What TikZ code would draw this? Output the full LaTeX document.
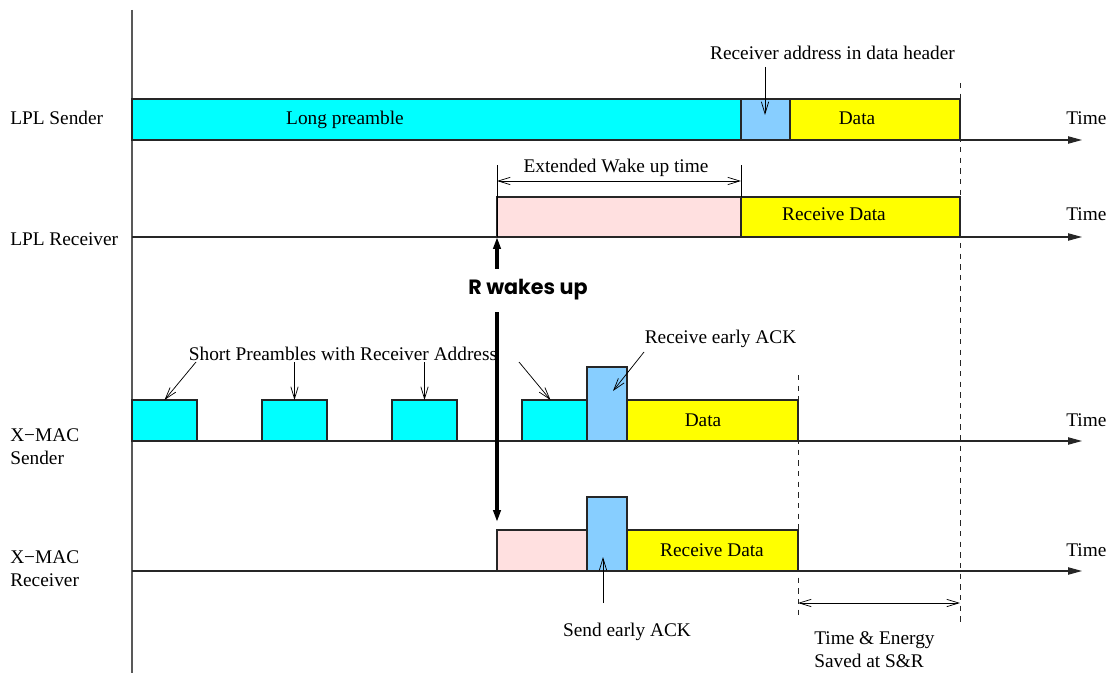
\documentclass[tikz,border=0pt]{standalone}
\usepackage{fontspec}
\setmainfont{Liberation Serif}
\newfontfamily\wakefont{Poppins}
\usetikzlibrary{arrows.meta,calc}

\definecolor{pcyan}{RGB}{0,255,255}
\definecolor{pyellow}{RGB}{255,255,0}
\definecolor{ltblue}{RGB}{135,206,255}
\definecolor{wakepink}{RGB}{255,224,224}

\begin{document}
\begin{tikzpicture}[x=0.75pt,y=-0.75pt,
  every node/.style={font=\fontsize{14.5pt}{17.3pt}\selectfont},
  seg/.style n args={3}{draw=black!85, line width=0.8pt, fill=#1, inner sep=0pt,
    outer sep=0pt, anchor=south west, minimum width=#2*0.75pt, minimum height=#3*0.75pt},
  lbl/.style={inner sep=0pt, anchor=base},
  axisline/.style={draw=black!65, line width=0.8pt},
  timeline/.style={draw=black!85, line width=0.8pt, -{Triangle[length=10.5pt,width=5.5pt]}},
  dashline/.style={draw=black!85, line width=0.65pt, dash pattern=on 4pt off 4pt},
  barb/.style={draw=black, line width=0.55pt, -{Straight Barb[length=9pt,width=5.5pt]}},
  dimarrow/.style={draw=black, line width=0.55pt, {Straight Barb[length=9pt,width=5.5pt]}-{Straight Barb[length=9pt,width=5.5pt]}},
  tickline/.style={draw=black, line width=0.6pt},
  wakearrow/.style={draw=black, line width=2.4pt, -{Triangle[length=9pt,width=5.5pt]}},
]
\useasboundingbox (0,0) rectangle (1112,673);

% time axis origin
\coordinate (vtop) at (132,10);
\coordinate (vbot) at (132,673);
\coordinate (tend) at (1082,0);
\draw[axisline] (vtop) -- (vbot);

% LPL sender
\node[seg={pcyan}{609}{41}] (lp) at (132,140) {};
\node[seg={ltblue}{49}{41}] (hb) at (741,140) {};
\node[seg={pyellow}{170}{41}] (ld) at (790,140) {};
% LPL receiver
\node[seg={wakepink}{244}{40}] (lw) at (497,237) {};
\node[seg={pyellow}{219}{40}] (lrd) at (741,237) {};
% X-MAC sender
\node[seg={pcyan}{65}{41}] (sp1) at (132,441) {};
\node[seg={pcyan}{65}{41}] (sp2) at (262,441) {};
\node[seg={pcyan}{65}{41}] (sp3) at (392,441) {};
\node[seg={pcyan}{65}{41}] (sp4) at (522,441) {};
\node[seg={ltblue}{40}{74}] (ack1) at (587,441) {};
\node[seg={pyellow}{171}{41}] (xd) at (627,441) {};
% X-MAC receiver
\node[seg={wakepink}{90}{41}] (xw) at (497,571) {};
\node[seg={ltblue}{40}{74}] (ack2) at (587,571) {};
\node[seg={pyellow}{171}{41}] (xrd) at (627,571) {};

% time lines
\draw[timeline] (lp.south west) -- (lp.south west -| tend);
\draw[timeline] (lw.south west -| vtop) -- (lw.south west -| tend);
\draw[timeline] (sp1.south west) -- (sp1.south west -| tend);
\draw[timeline] (xw.south west -| vtop) -- (xw.south west -| tend);

% end-of-data markers
\coordinate (d1top) at (960,83);
\coordinate (d1bot) at (960,623);
\coordinate (d2top) at (798,375);
\coordinate (d2bot) at (798,617);
\draw[dashline] (d1top) -- (d1bot);
\draw[dashline] (d2top) -- (d2bot);

% row labels
\node[lbl, anchor=base west] (l1) at (10,124.5) {LPL Sender};
\node[lbl, anchor=base west] (l2) at (10,245.5) {LPL Receiver};
\node[lbl, anchor=west, align=left] (l3) at (10,447) {X−MAC\\Sender};
\node[lbl, anchor=west, align=left] (l4) at (10,568.3) {X−MAC\\Receiver};

\node[lbl, anchor=base west] (t1) at (1066,124.5) {Time};
\node[lbl, anchor=base west] (t2) at (1066,221) {Time};
\node[lbl, anchor=base west] (t3) at (1066,426) {Time};
\node[lbl, anchor=base west] (t4) at (1066,556) {Time};

% box texts
\node[lbl] (lpt) at (345,124.5) {Long preamble};
\node[lbl] (ldt) at (857,124.5) {Data};
\node[lbl] (lrdt) at (834,221) {Receive Data};
\node[lbl] (xdt) at (703,426) {Data};
\node[lbl] (xrdt) at (712,556) {Receive Data};

% header annotation
\node[lbl] (hdr) at (832.5,59.3) {Receiver address in data header};
\coordinate (hdrtip) at (765,115);
\draw[barb] (hdr.south -| hdrtip) ++(0,7) -- (hdrtip);

% extended wake up time
\draw[tickline] (lw.south west) -- ++(0,-72);
\draw[tickline] (lw.north east) -- ++(0,-32);
\coordinate (e1) at ($(lw.north west)+(0,-16)$);
\coordinate (e2) at ($(lw.north east)+(0,-16)$);
\draw[dimarrow] (e1) -- (e2);
\node[lbl] (ext) at (616,172.7) {Extended Wake up time};

% short preambles
\node[lbl] (spt) at (343,360) {Short Preambles with Receiver Address};
\coordinate (sa1) at (196,362);
\coordinate (sa2) at (294.5,362);
\coordinate (sa3) at (424.5,362);
\coordinate (sa4) at (519,362);
\draw[barb] (sa1) -- (sp1.north);
\draw[barb] (sa2) -- (sp2.north);
\draw[barb] (sa3) -- (sp3.north);
\draw[barb] (sa4) -- ($(sp4.north)+(-4,0)$);

% early ACK annotations
\node[lbl] (rat) at (720.5,343) {Receive early ACK};
\coordinate (ra) at (644,352);
\coordinate (rtip) at (613,391);
\draw[barb] (ra) -- (rtip);
\node[lbl] (sat) at (627,636) {Send early ACK};
\coordinate (sa) at (603,603);
\coordinate (stip) at (603,557);
\draw[barb] (sa) -- (stip);

% saved time
\coordinate (s1) at (798,603);
\coordinate (s2) at (960,603);
\draw[dimarrow] (s1) -- (s2);
\node[lbl, anchor=west, align=left] (te) at (814,650) {Time \& Energy\\Saved at S\&R};

% receiver wake up
\node[lbl, font={\wakefont\bfseries\fontsize{15.5pt}{18pt}\selectfont}] (wake) at (528,295) {R wakes up};
\coordinate (wu) at (497,269);
\coordinate (wd1) at (497,312);
\coordinate (wd2) at (497,522);
\draw[wakearrow] (wu) -- (lw.south west);
\draw[wakearrow] (wd1) -- (wd2);
\end{tikzpicture}
\end{document}
